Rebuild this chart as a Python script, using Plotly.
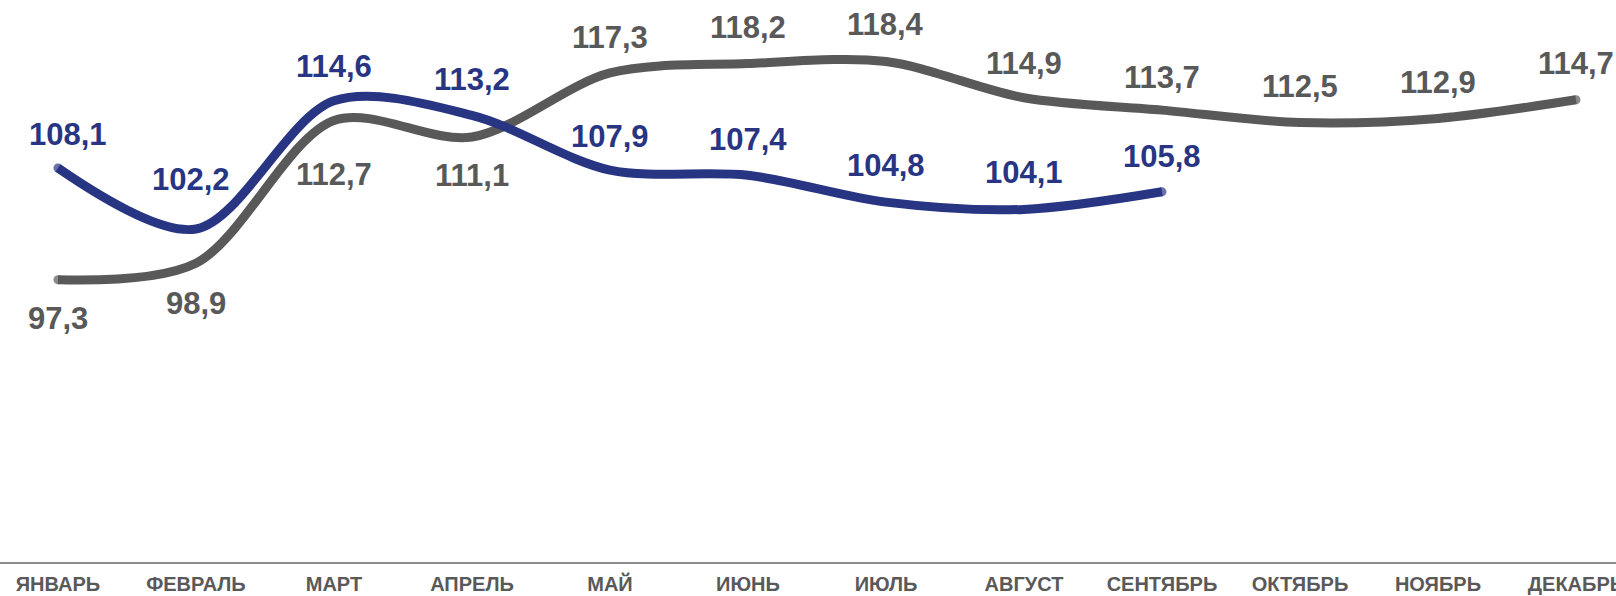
import plotly.graph_objects as go

months = ["ЯНВАРЬ", "ФЕВРАЛЬ", "МАРТ", "АПРЕЛЬ", "МАЙ", "ИЮНЬ", "ИЮЛЬ",
          "АВГУСТ", "СЕНТЯБРЬ", "ОКТЯБРЬ", "НОЯБРЬ", "ДЕКАБРЬ"]
prev_year = [97.3, 98.9, 112.7, 111.1, 117.3, 118.2, 118.4, 114.9, 113.7, 112.5, 112.9, 114.7]
curr_year = [108.1, 102.2, 114.6, 113.2, 107.9, 107.4, 104.8, 104.1, 105.8]

GRAY = "#595959"
BLUE = "#283583"
LW = 9

# label pixel offsets (xshift, yshift) – layout only
prev_off = [(0, -39), (0, -40), (0, -54), (0, -38), (0, 35), (0, 36),
            (0, 37), (0, 34), (0, 33), (0, 36), (0, 36), (0, 36)]
curr_off = [(10, 34), (-5, 50), (0, 34), (0, 36), (0, 34), (0, 36),
            (0, 37), (0, 37), (0, 35)]

fig = go.Figure()

def add_series(vals, color):
    n = len(vals)
    sizes = [LW if i in (0, n - 1) else 0 for i in range(n)]
    fig.add_trace(go.Scatter(
        x=months[:n], y=vals, mode="lines+markers",
        line=dict(color=color, width=LW, shape="spline", smoothing=0.9),
        marker=dict(size=sizes, color=color, line=dict(width=0)),
        hoverinfo="skip", showlegend=False, cliponaxis=False))

add_series(prev_year, GRAY)
add_series(curr_year, BLUE)

def fmt(v):
    return f"{v:.1f}".replace(".", ",")

for vals, offs, color in ((prev_year, prev_off, GRAY), (curr_year, curr_off, BLUE)):
    for i, v in enumerate(vals):
        fig.add_annotation(
            x=months[i], y=v, text=fmt(v), showarrow=False,
            xshift=offs[i][0], yshift=offs[i][1],
            font=dict(family="Liberation Sans, Arial, sans-serif", size=31,
                      color=color, weight="bold"),
            xanchor="center", yanchor="middle")

fig.update_layout(
    width=1616, height=596,
    margin=dict(l=0, r=0, t=0, b=34, autoexpand=False),
    paper_bgcolor="white", plot_bgcolor="white",
    hovermode=False,
    xaxis=dict(type="category", categoryorder="array", categoryarray=months,
               range=[-0.42, 11.29], showgrid=False, zeroline=False,
               automargin=False,
               showline=True, linecolor="#8c8c8c", linewidth=2,
               ticks="outside", ticklen=3, tickcolor="rgba(0,0,0,0)",
               tickfont=dict(family="Liberation Sans, Arial, sans-serif", size=20,
                             color=GRAY, weight="bold")),
    yaxis=dict(range=[70, 124.35], visible=False, showgrid=False, zeroline=False,
               automargin=False),
)

fig.write_html("out.html",
               config={"displayModeBar": False, "staticPlot": True},
               post_script="document.body.style.margin='0';document.body.style.overflow='hidden';")
